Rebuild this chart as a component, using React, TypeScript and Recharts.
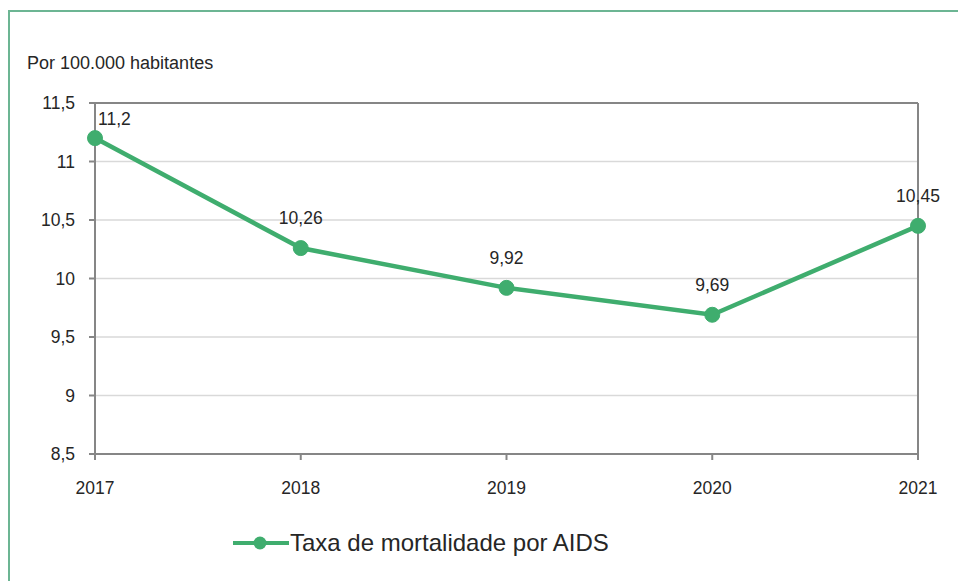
import { LineChart, Line, XAxis, YAxis, CartesianGrid, ReferenceLine, LabelList, Legend } from 'recharts'

const years = ['2017', '2018', '2019', '2020', '2021']
const rates = [11.2, 10.26, 9.92, 9.69, 10.45]
const yTicks = [8.5, 9, 9.5, 10, 10.5, 11, 11.5]

const seriesName = 'Taxa de mortalidade por AIDS'
const unitLabel = 'Por 100.000 habitantes'

const data = years.map((year, i) => ({ year, rate: rates[i] }))

const GREEN = '#3fad6e'
const AXIS = '#868686'
const TEXT = '#262626'
const FONT = '"Liberation Sans", Arial, sans-serif'

const fmt = (v: number) => String(v).replace('.', ',')

// first point sits right under the top frame, so its label goes to the right
const renderLabel = (props: any) => {
  const { x, y, value, index } = props
  if (index === 0) {
    return (
      <text x={x + 3} y={y - 13} fill={TEXT} fontSize={17.5} fontFamily={FONT} textAnchor="start">
        {fmt(value)}
      </text>
    )
  }
  return (
    <text x={x} y={y - 24} fill={TEXT} fontSize={17.5} fontFamily={FONT} textAnchor="middle">
      {fmt(value)}
    </text>
  )
}

const renderLegend = () => (
  <div style={{ display: 'flex', alignItems: 'center', fontFamily: FONT, fontSize: 24, color: TEXT, whiteSpace: 'nowrap' }}>
    <svg width={56} height={16} style={{ marginRight: 1 }}>
      <line x1={0} y1={8} x2={56} y2={8} stroke={GREEN} strokeWidth={4} />
      <circle cx={27} cy={8} r={6.5} fill={GREEN} />
    </svg>
    <span>{seriesName}</span>
  </div>
)

export default function App() {
  return (
    <div style={{ position: 'absolute', left: 0, top: 0, width: 958, height: 581, overflow: 'hidden', background: '#fff' }}>
      {/* green frame, cut off at right and bottom */}
      <div style={{ position: 'absolute', left: 8, top: 10, width: 1000, height: 1000, border: '2px solid #6cb593' }} />
      <div style={{ position: 'absolute', left: 27, top: 54, fontFamily: FONT, fontSize: 18, lineHeight: '18px', color: TEXT }}>
        {unitLabel}
      </div>
      <div style={{ position: 'absolute', left: 0, top: 0 }}>
        <LineChart width={958} height={581} data={data} margin={{ top: 103, right: 40, bottom: 87, left: 35 }}>
          <CartesianGrid vertical={false} stroke="#d9d9d9" strokeWidth={1.5} />
          <XAxis
            dataKey="year"
            height={40}
            tickSize={6}
            tickMargin={22}
            stroke={AXIS}
            strokeWidth={2}
            tick={{ fill: TEXT, fontSize: 17.5, fontFamily: FONT }}
          />
          <YAxis
            width={60}
            domain={[8.5, 11.5]}
            ticks={yTicks}
            tickFormatter={fmt}
            tickSize={6}
            tickMargin={14}
            stroke={AXIS}
            strokeWidth={2}
            interval={0}
            tick={{ fill: TEXT, fontSize: 17.5, fontFamily: FONT }}
          />
          <ReferenceLine y={11.5} stroke={AXIS} strokeWidth={2} />
          <ReferenceLine x="2021" stroke={AXIS} strokeWidth={2} />
          <Legend
            verticalAlign="middle"
            align="center"
            layout="horizontal"
            content={renderLegend}
            wrapperStyle={{ left: 233, top: 529, width: 'auto' }}
          />
          <Line
            type="linear"
            dataKey="rate"
            name={seriesName}
            stroke={GREEN}
            strokeWidth={4.5}
            dot={{ r: 7.5, fill: GREEN, stroke: GREEN, strokeWidth: 1 }}
            activeDot={false}
            isAnimationActive={false}
          >
            <LabelList dataKey="rate" content={renderLabel} />
          </Line>
        </LineChart>
      </div>
    </div>
  )
}
